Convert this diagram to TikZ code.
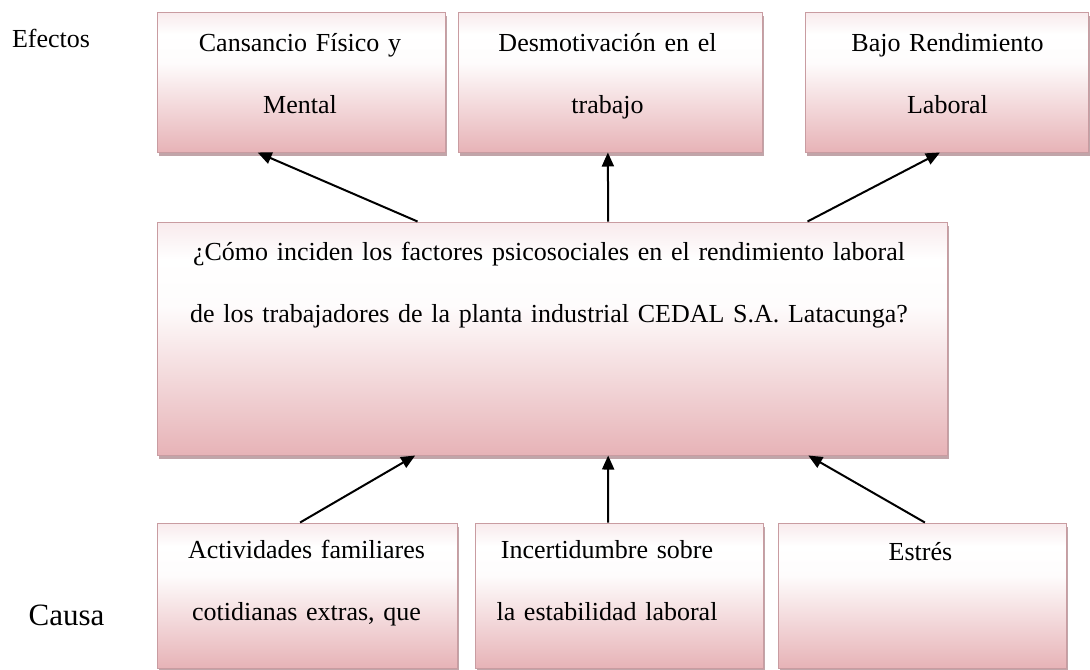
\documentclass[tikz,border=0pt]{standalone}
\usepackage{fontspec}
\setmainfont{Liberation Serif}
\usetikzlibrary{positioning,arrows.meta,calc,shadows}
\definecolor{rosaFondo}{HTML}{E7B3B7}
\definecolor{rosaTope}{HTML}{F8EAEC}
\definecolor{rosaBorde}{HTML}{C99CA1}
\definecolor{rosaSombra}{HTML}{AC878C}
\pgfdeclareverticalshading{rosado}{100bp}{color(0bp)=(rosaFondo); color(25bp)=(rosaFondo); color(57bp)=(white!96!rosaFondo); color(67bp)=(white); color(75bp)=(rosaTope); color(100bp)=(rosaTope)}
\tikzset{
  caja/.style={draw=rosaBorde, line width=0.5pt, inner sep=0pt, shade, shading=rosado,
    drop shadow={shadow xshift=0.9pt, shadow yshift=-2.2pt, fill=rosaSombra, opacity=0.75}},
  texto/.style={anchor=base, align=center, inner sep=0pt, text width=#1,
    font=\fontsize{13}{31}\selectfont},
  texto/.default=190pt,
  flecha/.style={-{Triangle[length=7pt,width=6pt]}, line width=1pt}
}
\begin{document}
\begin{tikzpicture}[x=0.5pt,y=-0.5pt]
\useasboundingbox (0,0) rectangle (1090,669);
%
\node[caja, minimum width=144pt, minimum height=70pt] (efecto1) at (301,82) {};
\node[caja, minimum width=152pt, minimum height=70pt] (efecto2) at (610,82) {};
\node[caja, minimum width=141.5pt, minimum height=70pt] (efecto3) at (946.5,82) {};
\node[caja, minimum width=395pt, minimum height=116.5pt] (problema) at (552,338.5) {};
\node[caja, minimum width=150pt, minimum height=72.5pt] (causa1) at (307,595.5) {};
\node[caja, minimum width=144pt, minimum height=72.5pt] (causa2) at (619,595.5) {};
\node[caja, minimum width=144pt, minimum height=72.5pt] (causa3) at (922,595.5) {};
%
\node[texto] (efecto1txt) at (300,51) {Cansancio Físico y\\Mental};
\node[texto] (efecto2txt) at (607.5,51) {Desmotivación en el\\trabajo};
\node[texto] (efecto3txt) at (947.5,51) {Bajo Rendimiento\\Laboral};
\node[texto=390pt] (problematxt) at (549,260) {¿Cómo inciden los factores psicosociales en el rendimiento laboral\\de los trabajadores de la planta industrial CEDAL S.A. Latacunga?};
\node[texto] (causa1txt) at (306.5,558) {Actividades familiares\\cotidianas extras, que};
\node[texto] (causa2txt) at (607,558) {Incertidumbre sobre\\la estabilidad laboral};
\node[texto] (causa3txt) at (920.5,560) {Estrés};
%
\node[anchor=base, font=\fontsize{13}{15}\selectfont] (efectos) at (51,47) {Efectos};
\node[anchor=base, font=\fontsize{15.5}{18}\selectfont] (causa) at (66.5,625) {Causa};
%
\draw[flecha] ($(problema.north west)!.33!(problema.north east)$) -- ($(efecto1.south west)!.35!(efecto1.south east)$);
\draw[flecha] ($(problema.north west)!.571!(problema.north east)$) -- ($(efecto2.south west)!.493!(efecto2.south east)$);
\draw[flecha] ($(problema.north west)!.823!(problema.north east)$) -- ($(efecto3.south west)!.477!(efecto3.south east)$);
%
\draw[flecha] ($(causa1.north west)!.477!(causa1.north east)$) -- ($(problema.south west)!.327!(problema.south east)$);
\draw[flecha] ($(causa2.north west)!.462!(causa2.north east)$) -- ($(problema.south west)!.571!(problema.south east)$);
\draw[flecha] ($(causa3.north west)!.51!(causa3.north east)$) -- ($(problema.south west)!.824!(problema.south east)$);
\end{tikzpicture}
\end{document}
